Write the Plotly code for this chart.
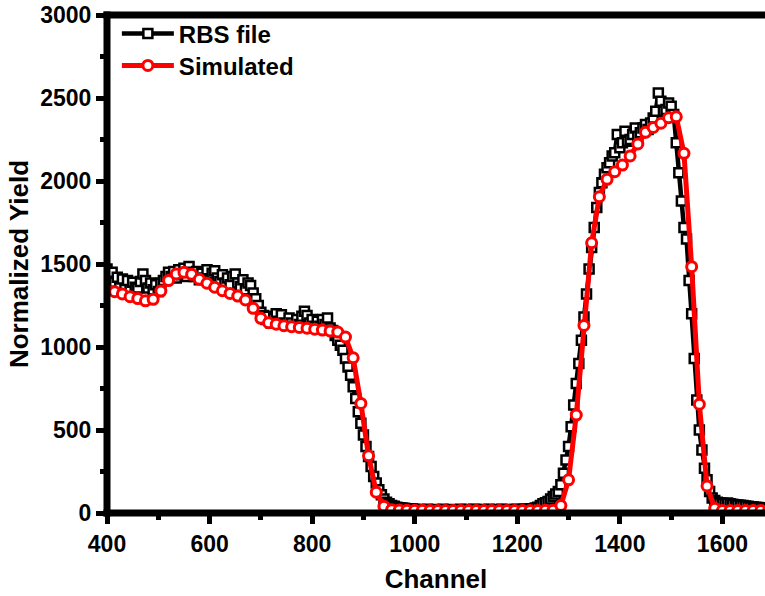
import plotly.graph_objects as go

# Measured RBS spectrum, sampled every 5 channels
rbs_channel = list(range(400, 1691, 5))
rbs_yield = [
    # 400 - 595
    1470, 1420, 1450, 1390, 1420, 1360, 1410, 1350, 1400, 1345,
    1390, 1360, 1355, 1395, 1440, 1400, 1355, 1385, 1345, 1375,
    1335, 1385, 1400, 1425, 1450, 1425, 1455, 1415, 1465, 1435,
    1475, 1425, 1485, 1450, 1425, 1455, 1405, 1445, 1415, 1465,
    # 600 - 795
    1405, 1445, 1460, 1415, 1395, 1435, 1385, 1415, 1375, 1425,
    1440, 1385, 1365, 1405, 1345, 1385, 1370, 1325, 1290, 1250,
    1210, 1190, 1165, 1185, 1145, 1175, 1200, 1155, 1195, 1145,
    1135, 1175, 1145, 1125, 1165, 1135, 1185, 1215, 1190, 1145,
    # 800 - 995
    1165, 1125, 1155, 1125, 1165, 1135, 1175, 1115, 1100, 1070,
    1040, 1010, 980, 930, 880, 830, 760, 690, 610, 540,
    470, 400, 340, 280, 220, 180, 140, 110, 85, 65,
    55, 45, 40, 35, 32, 30, 28, 26, 25, 24,
    # 1000 - 1235
    22, 20, 21, 19, 20, 22, 20, 19, 21, 20,
    20, 22, 19, 20, 21, 20, 19, 20, 22, 20,
    21, 20, 20, 22, 21, 19, 20, 21, 20, 22,
    20, 19, 21, 20, 22, 20, 21, 19, 20, 21,
    22, 20, 21, 23, 22, 24, 26, 30,
    # 1240 - 1435
    35, 45, 55, 62, 70, 85, 100, 115, 130, 170,
    240, 320, 400, 520, 650, 780, 900, 1040, 1180, 1320,
    1470, 1600, 1720, 1840, 1930, 1990, 2040, 2080, 2110, 2150,
    2170, 2280, 2200, 2230, 2300, 2240, 2250, 2280, 2320, 2270,
    # 1440 - 1635
    2290, 2320, 2340, 2310, 2350, 2380, 2420, 2530, 2480, 2420,
    2430, 2470, 2450, 2400, 2230, 2050, 1880, 1720, 1650, 1400,
    1200, 930, 680, 500, 380, 270, 200, 130, 90, 75,
    65, 60, 58, 55, 60, 55, 52, 50, 48, 46,
    # 1640 - 1690
    45, 42, 40, 38, 36, 35, 33, 32, 30, 31, 30,
]

# Simulated spectrum, every 15 channels
sim_channel = list(range(400, 1691, 15))
sim_yield = [
    1340, 1333, 1320, 1303, 1292, 1278, 1287, 1337, 1400, 1440,
    1450, 1438, 1408, 1384, 1360, 1339, 1323, 1307, 1283, 1233,
    1173, 1146, 1137, 1128, 1122, 1118, 1113, 1107, 1102, 1097,
    1090, 1060, 935, 660, 345, 125, 40, 20,
    18, 17, 16, 16, 15, 15, 15, 15, 15, 15,
    15, 15, 15, 15, 15, 15, 15, 15, 15, 16, 17,
    45, 200, 590, 1130, 1628, 1905, 2010, 2056, 2096, 2151,
    2223, 2293, 2323, 2348, 2381, 2387, 2167, 1484, 655, 163, 28,
    15, 15, 15, 15, 15, 15, 15,
]

assert len(rbs_channel) == len(rbs_yield)
assert len(sim_channel) == len(sim_yield)

FONT = "Liberation Sans, Arial, sans-serif"

fig = go.Figure()
fig.add_trace(go.Scatter(
    x=rbs_channel, y=rbs_yield, name="RBS file", mode="lines+markers",
    line=dict(color="black", width=4.5),
    marker=dict(symbol="square", size=9, color="white",
                line=dict(color="black", width=2.5)),
    legend="legend",
))
fig.add_trace(go.Scatter(
    x=sim_channel, y=sim_yield, name="Simulated", mode="lines+markers",
    line=dict(color="#ff0000", width=5),
    marker=dict(symbol="circle", size=10, color="white",
                line=dict(color="#ff0000", width=3)),
    legend="legend2",
))

tick_font = dict(family=FONT, size=23, color="black", weight="bold")
title_font = dict(family=FONT, size=26, color="black", weight="bold")
legend_font = dict(family=FONT, size=24, color="black", weight="bold")

# Heavy frame: left, bottom and top axis lines
ex, ey = 3.5 / 658, 3.5 / 498
frame = dict(type="line", xref="paper", yref="paper", layer="above",
             line=dict(color="black", width=7))
shapes = [
    dict(frame, x0=0, x1=0, y0=-ey, y1=1 + ey),
    dict(frame, x0=-ex, x1=1.01, y0=0, y1=0),
    dict(frame, x0=-ex, x1=1.01, y0=1, y1=1),
]

legend_common = dict(x=0.015, xanchor="left", yanchor="middle",
                     bgcolor="rgba(0,0,0,0)", itemwidth=52, font=legend_font)

fig.update_layout(
    width=765, height=596,
    margin=dict(l=107, r=0, t=15, b=83),
    plot_bgcolor="white", paper_bgcolor="white",
    shapes=shapes,
    showlegend=True,
    legend=dict(legend_common, y=0.962),
    legend2=dict(legend_common, y=0.898),
    xaxis=dict(
        range=[400, 1683], showgrid=False, zeroline=False, showline=False,
        tickmode="array", tickvals=[400, 600, 800, 1000, 1200, 1400, 1600],
        ticks="outside", ticklen=10, tickwidth=5, tickcolor="black",
        minor=dict(tickvals=[500, 700, 900, 1100, 1300, 1500], ticks="outside",
                   ticklen=6, tickwidth=5, tickcolor="black"),
        tickfont=tick_font,
        title=dict(text="Channel", font=title_font, standoff=14),
    ),
    yaxis=dict(
        range=[0, 3000], showgrid=False, zeroline=False, showline=False,
        tickmode="array", tickvals=[0, 500, 1000, 1500, 2000, 2500, 3000],
        ticks="outside", ticklen=10, tickwidth=5, tickcolor="black",
        minor=dict(tickvals=[250, 750, 1250, 1750, 2250, 2750], ticks="outside",
                   ticklen=6, tickwidth=5, tickcolor="black"),
        tickfont=tick_font,
        title=dict(text="Normalized Yield", font=title_font, standoff=4),
    ),
)

fig.write_html("out.html")
